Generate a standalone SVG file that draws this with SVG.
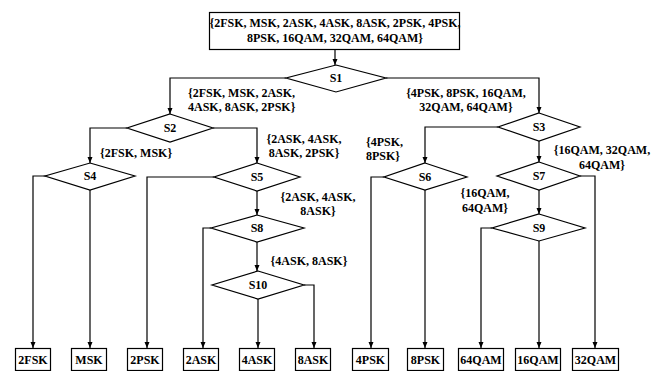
<svg xmlns="http://www.w3.org/2000/svg" width="656" height="371" viewBox="0 0 656 371">
<style>
text{font-family:"Liberation Serif","Times New Roman",serif;font-weight:bold;font-size:12px;fill:#000}
.m{text-anchor:middle}
.box,.dia{fill:#fff;stroke:#000;stroke-width:1.2}
.c path{fill:none;stroke:#000;stroke-width:1.2;marker-end:url(#ah)}
</style>
<defs>
<marker id="ah" markerWidth="6" markerHeight="6" refX="6" refY="3" orient="auto" markerUnits="userSpaceOnUse">
<path d="M0,0.5 L6,3 L0,5.5 Z" fill="#000"/>
</marker>
</defs>
<rect width="656" height="371" fill="#fff"/>
<g class="c" id="connectors">
<path d="M335,49 V65"/>
<path d="M286,78 H170 V114"/>
<path d="M386,78 H539 V113"/>
<path d="M127,128 H90 V163"/>
<path d="M213,128 H257 V163"/>
<path d="M49,176 H33 V348"/>
<path d="M90,190 V348"/>
<path d="M214,177 H147 V348"/>
<path d="M257,191 V215"/>
<path d="M211,228 H203 V348"/>
<path d="M257,242 V271"/>
<path d="M304,285 H314 V348"/>
<path d="M258,299 V348"/>
<path d="M498,127 H425 V163"/>
<path d="M539,141 V162"/>
<path d="M384,177 H371 V348"/>
<path d="M425,190 V348"/>
<path d="M580,176 H595 V348"/>
<path d="M539,190 V214"/>
<path d="M492,228 H481 V348"/>
<path d="M539,241 V348"/>
</g>
<g id="top"><rect class="box" x="209.5" y="12.5" width="250" height="37"/>
<text class="m" x="335" y="27">{2FSK, MSK, 2ASK, 4ASK, 8ASK, 2PSK, 4PSK,</text>
<text class="m" x="335" y="42">8PSK, 16QAM, 32QAM, 64QAM}</text></g>
<g id="S1"><polygon class="dia" points="336,65 386,78 336,92 286,78"/><text class="m" x="336" y="82">S1</text></g>
<g id="S2"><polygon class="dia" points="170,114 213,128 170,142 127,128"/><text class="m" x="170" y="132">S2</text></g>
<g id="S3"><polygon class="dia" points="539,113 580,127 539,141 498,127"/><text class="m" x="539" y="131">S3</text></g>
<g id="S4"><polygon class="dia" points="90,163 135,176 90,190 45,176"/><text class="m" x="90" y="180">S4</text></g>
<g id="S5"><polygon class="dia" points="257,163 300,177 257,191 214,177"/><text class="m" x="257" y="181">S5</text></g>
<g id="S6"><polygon class="dia" points="425,163 467,177 425,190 384,177"/><text class="m" x="425" y="181">S6</text></g>
<g id="S7"><polygon class="dia" points="539,162 580,176 539,190 497,176"/><text class="m" x="539" y="180">S7</text></g>
<g id="S8"><polygon class="dia" points="257,215 304,228 257,242 211,228"/><text class="m" x="257" y="232">S8</text></g>
<g id="S9"><polygon class="dia" points="539,214 585,228 539,241 492,228"/><text class="m" x="539" y="232">S9</text></g>
<g id="S10"><polygon class="dia" points="258,271 304,285 258,299 212,285"/><text class="m" x="258" y="289">S10</text></g>
<g id="labels">
<text x="188" y="97">{2FSK, MSK, 2ASK,</text>
<text x="188" y="111">4ASK, 8ASK, 2PSK}</text>
<text class="m" x="466" y="97">{4PSK, 8PSK, 16QAM,</text>
<text class="m" x="466" y="111">32QAM, 64QAM}</text>
<text x="100" y="157">{2FSK, MSK}</text>
<text class="m" x="304" y="143">{2ASK, 4ASK,</text>
<text class="m" x="304" y="157">8ASK, 2PSK}</text>
<text class="m" x="318" y="201">{2ASK, 4ASK,</text>
<text class="m" x="318" y="215">8ASK}</text>
<text class="m" x="309" y="265">{4ASK, 8ASK}</text>
<text x="366" y="146">{4PSK,</text>
<text x="366" y="160">8PSK}</text>
<text class="m" x="602" y="154">{16QAM, 32QAM,</text>
<text class="m" x="602" y="169">64QAM}</text>
<text class="m" x="485" y="197">{16QAM,</text>
<text class="m" x="485" y="212">64QAM}</text>
</g>
<g id="n2FSK"><rect class="box" x="15.5" y="348.5" width="35" height="22"/><text class="m" x="33" y="364">2FSK</text></g>
<g id="nMSK"><rect class="box" x="71.5" y="348.5" width="35" height="22"/><text class="m" x="89" y="364">MSK</text></g>
<g id="n2PSK"><rect class="box" x="127.5" y="348.5" width="35" height="22"/><text class="m" x="145" y="364">2PSK</text></g>
<g id="n2ASK"><rect class="box" x="183.5" y="348.5" width="35" height="22"/><text class="m" x="201" y="364">2ASK</text></g>
<g id="n4ASK"><rect class="box" x="239.5" y="348.5" width="35" height="22"/><text class="m" x="257" y="364">4ASK</text></g>
<g id="n8ASK"><rect class="box" x="295.5" y="348.5" width="35" height="22"/><text class="m" x="313" y="364">8ASK</text></g>
<g id="n4PSK"><rect class="box" x="352.5" y="348.5" width="36" height="22"/><text class="m" x="370.5" y="364">4PSK</text></g>
<g id="n8PSK"><rect class="box" x="407.5" y="348.5" width="36" height="22"/><text class="m" x="425.5" y="364">8PSK</text></g>
<g id="n64QAM"><rect class="box" x="458.5" y="348.5" width="45" height="22"/><text class="m" x="481" y="364">64QAM</text></g>
<g id="n16QAM"><rect class="box" x="515.5" y="348.5" width="45" height="22"/><text class="m" x="538" y="364">16QAM</text></g>
<g id="n32QAM"><rect class="box" x="572.5" y="348.5" width="46" height="22"/><text class="m" x="595.5" y="364">32QAM</text></g>
</svg>
